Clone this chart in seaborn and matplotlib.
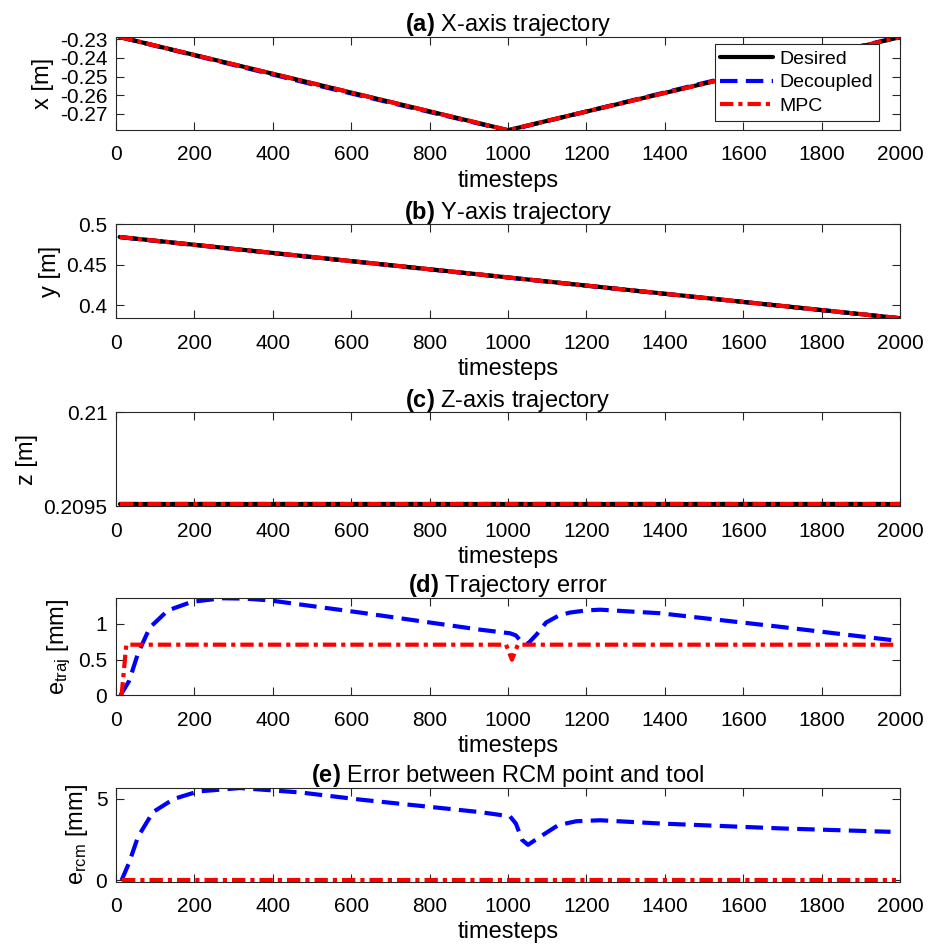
import numpy as np
import matplotlib
matplotlib.use("Agg")
import matplotlib.pyplot as plt
import seaborn as sns
from matplotlib.ticker import FixedLocator, FuncFormatter

# ---- data ----
# (a) X-axis trajectory
x_time = [10, 1000, 2000]
x_desired = [-0.2288, -0.2788, -0.2288]
x_dec_time = [10, 500, 1000, 1500, 2000]
x_decoupled = [-0.2288, -0.2541, -0.2790, -0.2534, -0.2286]
x_mpc = [-0.2288, -0.2788, -0.2288]

# (b) Y-axis trajectory
y_time = [10, 2000]
y_desired = [0.4842, 0.3838]
y_decoupled = [0.4840, 0.3837]
y_mpc = [0.4842, 0.3838]

# (c) Z-axis trajectory
z_time = [10, 2000]
z_desired = [0.20951, 0.20951]
z_decoupled = [0.20951, 0.20951]
z_mpc = [0.20951, 0.20951]

# (d) trajectory error [mm]
etraj_dec_time = [12, 34, 57, 87, 133, 194, 271, 330, 393, 623, 929, 1005, 1020,
                  1036, 1050, 1074, 1097, 1130, 1158, 1200, 1235, 1388, 1694, 1985]
etraj_decoupled = [0.0, 0.20, 0.59, 0.95, 1.19, 1.31, 1.36, 1.355, 1.33, 1.16, 0.92, 0.87,
                   0.84, 0.74, 0.72, 0.86, 1.02, 1.12, 1.16, 1.19, 1.20, 1.15, 0.96, 0.77]
etraj_mpc_time = [15, 27, 995, 1010, 1025, 1990]
etraj_mpc = [0.0, 0.71, 0.71, 0.50, 0.71, 0.71]

# (e) RCM error [mm]
ercm_dec_time = [15, 34, 57, 95, 148, 210, 317, 470, 623, 929, 1005, 1020, 1036,
                 1051, 1082, 1128, 1174, 1235, 1388, 1694, 1975]
ercm_decoupled = [0.0, 1.07, 2.68, 4.19, 5.0, 5.46, 5.67, 5.4, 4.96, 4.19, 3.93, 3.49,
                  2.48, 2.18, 2.68, 3.39, 3.63, 3.69, 3.49, 3.19, 2.98]
ercm_mpc_time = [15, 1990]
ercm_mpc = [0.0, 0.0]

x_ticks = list(range(0, 2001, 200))

sns.set_theme(style="ticks")
plt.rcParams['font.family'] = ['Liberation Sans', 'DejaVu Sans']
plt.rcParams['mathtext.fontset'] = 'custom'
plt.rcParams['mathtext.rm'] = 'Liberation Sans'
plt.rcParams['mathtext.it'] = 'Liberation Sans'
plt.rcParams['mathtext.bf'] = 'Liberation Sans:bold'
plt.rcParams['axes.unicode_minus'] = False
plt.rcParams['text.color'] = 'black'
plt.rcParams['axes.labelcolor'] = 'black'

fig = plt.figure(figsize=(9.33, 9.5), dpi=100)

left, width = 0.124, 0.841
rows = [(0.863, 0.098), (0.665, 0.099), (0.467, 0.099), (0.268, 0.103), (0.072, 0.099)]

lw = 3.0
styles = {
    'Desired': dict(color='black', linestyle='-'),
    'Decoupled': dict(color='#0000ff', linestyle=(0, (4.2, 2.0))),
    'MPC': dict(color='#ff0000', linestyle=(0, (3.2, 1.2, 1.0, 1.2))),
}


def style_axes(ax, title, ylabel, yticks, ylim):
    ax.set_xlim(0, 2000)
    ax.set_ylim(*ylim)
    ax.xaxis.set_major_locator(FixedLocator(x_ticks))
    ax.yaxis.set_major_locator(FixedLocator(yticks))
    ax.yaxis.set_major_formatter(FuncFormatter(lambda v, p: f"{v:g}"))
    ax.tick_params(direction='in', top=True, right=True, length=6, width=0.8,
                   labelsize=15, colors='#262626', labelcolor='black')
    ax.tick_params(axis='x', pad=11)
    ax.tick_params(axis='y', pad=6)
    for s in ax.spines.values():
        s.set_color('#262626')
        s.set_linewidth(0.8)
    ax.set_title(title, fontsize=17, pad=4, color='black')
    ax.set_xlabel('timesteps', fontsize=17, labelpad=4)
    ax.set_ylabel(ylabel, fontsize=17, labelpad=4)


def plot_three(ax, t_des, des, t_dec, dec, t_mpc, mpc):
    # decoupled underneath, so the desired line shows in the gaps of the MPC line
    sns.lineplot(x=t_dec, y=dec, ax=ax, linewidth=lw, label='Decoupled', **styles['Decoupled'])
    sns.lineplot(x=t_des, y=des, ax=ax, linewidth=lw, label='Desired', **styles['Desired'])
    sns.lineplot(x=t_mpc, y=mpc, ax=ax, linewidth=lw, label='MPC', **styles['MPC'])


# (a)
ax = fig.add_axes([left, rows[0][0], width, rows[0][1]])
plot_three(ax, x_time, x_desired, x_dec_time, x_decoupled, x_time, x_mpc)
style_axes(ax, r'$\bf{(a)}$ X-axis trajectory', 'x [m]',
           [-0.27, -0.26, -0.25, -0.24, -0.23], (-0.2788, -0.2288))
handles, labels = ax.get_legend_handles_labels()
order = [labels.index(n) for n in ['Desired', 'Decoupled', 'MPC']]
leg = ax.legend([handles[i] for i in order], [labels[i] for i in order],
                loc='upper right', bbox_to_anchor=(0.973, 0.92), borderaxespad=0,
                fontsize=14, frameon=True, fancybox=False, framealpha=1,
                edgecolor='#262626', handlelength=2.7, handletextpad=0.35,
                labelspacing=0.3, borderpad=0.3)
leg.get_frame().set_linewidth(0.8)

# (b)
ax = fig.add_axes([left, rows[1][0], width, rows[1][1]])
plot_three(ax, y_time, y_desired, y_time, y_decoupled, y_time, y_mpc)
ax.get_legend().remove()
style_axes(ax, r'$\bf{(b)}$ Y-axis trajectory', 'y [m]', [0.4, 0.45, 0.5], (0.3838, 0.5))

# (c)
ax = fig.add_axes([left, rows[2][0], width, rows[2][1]])
plot_three(ax, z_time, z_desired, z_time, z_decoupled, z_time, z_mpc)
ax.get_legend().remove()
style_axes(ax, r'$\bf{(c)}$ Z-axis trajectory', 'z [m]', [0.2095, 0.21], (0.2095, 0.21))

# (d)
ax = fig.add_axes([left, rows[3][0], width, rows[3][1]])
sns.lineplot(x=etraj_dec_time, y=etraj_decoupled, ax=ax, linewidth=lw, **styles['Decoupled'])
sns.lineplot(x=etraj_mpc_time, y=etraj_mpc, ax=ax, linewidth=lw, **styles['MPC'])
style_axes(ax, r'$\bf{(d)}$ Trajectory error', r'e$_{\mathrm{traj}}$ [mm]', [0, 0.5, 1], (0, 1.37))

# (e)
ax = fig.add_axes([left, rows[4][0], width, rows[4][1]])
sns.lineplot(x=ercm_dec_time, y=ercm_decoupled, ax=ax, linewidth=lw, **styles['Decoupled'])
sns.lineplot(x=ercm_mpc_time, y=ercm_mpc, ax=ax, linewidth=lw, **styles['MPC'])
style_axes(ax, r'$\bf{(e)}$ Error between RCM point and tool', r'e$_{\mathrm{rcm}}$ [mm]',
           [0, 5], (-0.08, 5.7))

fig.savefig('out.png', dpi=100)
plt.close(fig)
